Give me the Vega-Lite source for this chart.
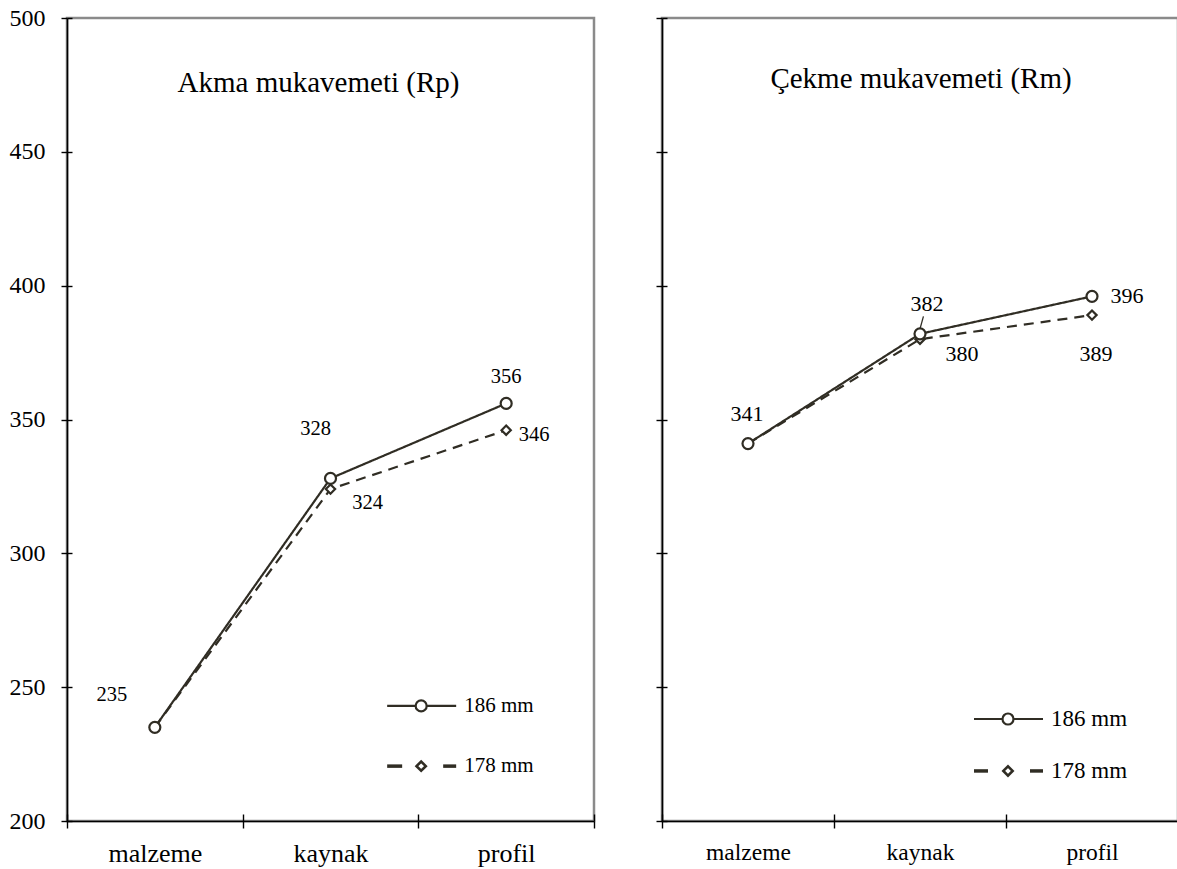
{
  "$schema": "https://vega.github.io/schema/vega-lite/v6.json",
  "background": "white",
  "padding": {"left": 7, "top": 4, "right": 0, "bottom": 0},
  "spacing": 58,
  "datasets": {
    "rp": [
      {"kategori": "malzeme", "seri": "178 mm", "deger": 235},
      {"kategori": "kaynak", "seri": "178 mm", "deger": 324},
      {"kategori": "profil", "seri": "178 mm", "deger": 346},
      {"kategori": "malzeme", "seri": "186 mm", "deger": 235},
      {"kategori": "kaynak", "seri": "186 mm", "deger": 328},
      {"kategori": "profil", "seri": "186 mm", "deger": 356}
    ],
    "rm": [
      {"kategori": "malzeme", "seri": "178 mm", "deger": 341},
      {"kategori": "kaynak", "seri": "178 mm", "deger": 380},
      {"kategori": "profil", "seri": "178 mm", "deger": 389},
      {"kategori": "malzeme", "seri": "186 mm", "deger": 341},
      {"kategori": "kaynak", "seri": "186 mm", "deger": 382},
      {"kategori": "profil", "seri": "186 mm", "deger": 396}
    ]
  },
  "config": {
    "font": "Liberation Serif",
    "view": {"stroke": "#8a8a8a", "strokeWidth": 2.5},
    "axis": {"domainColor": "#000", "tickColor": "#000", "domainWidth": 1.6, "tickWidth": 1.4, "labelColor": "#000", "labelFont": "Liberation Serif", "grid": false, "title": null},
    "title": {"font": "Liberation Serif", "fontSize": 29, "fontWeight": "normal", "color": "#000"}
  },
  "hconcat": [
    {
      "width": 527,
      "height": 803,
      "data": {"name": "rp"},
      "title": {"text": "Akma mukavemeti (Rp)", "offset": -92, "dx": -12, "anchor": "middle", "frame": "group"},
      "resolve": {"scale": {"x": "independent", "y": "independent"}},
      "layer": [
        {
          "mark": {"type": "line", "color": "#302d24", "strokeWidth": 2.2},
          "encoding": {
            "x": {"field": "kategori", "type": "nominal", "scale": {"type": "band", "domain": ["malzeme", "kaynak", "profil"], "paddingInner": 0, "paddingOuter": 0}, "axis": {"orient": "bottom", "tickBand": "extent", "labelAngle": 0, "labelFontSize": 26, "tickSize": 7, "labelPadding": 12}},
            "y": {"field": "deger", "type": "quantitative", "scale": {"domain": [200, 500], "nice": false, "zero": false}, "axis": {"orient": "left", "values": [200, 250, 300, 350, 400, 450, 500], "tickSize": 6, "labelPadding": 16, "labelFontSize": 24}},
            "strokeDash": {"field": "seri", "type": "nominal", "scale": {"domain": ["178 mm", "186 mm"], "range": [[10, 7], [1, 0]]}, "legend": null}
          }
        },
        {
          "mark": {"type": "point", "filled": true, "fill": "white", "stroke": "#302d24", "strokeWidth": 2.2, "opacity": 1},
          "encoding": {
            "x": {"field": "kategori", "type": "nominal", "scale": {"type": "band", "domain": ["malzeme", "kaynak", "profil"], "paddingInner": 0, "paddingOuter": 0}, "axis": {"orient": "bottom", "tickBand": "extent", "labels": false, "domain": false, "tickSize": 7, "offset": -7}},
            "y": {"field": "deger", "type": "quantitative", "scale": {"domain": [200, 500], "nice": false, "zero": false}, "axis": {"orient": "left", "values": [200, 250, 300, 350, 400, 450, 500], "labels": false, "domain": false, "tickSize": 5, "offset": -5}},
            "shape": {"field": "seri", "type": "nominal", "scale": {"domain": ["186 mm", "178 mm"], "range": ["circle", "diamond"]}, "legend": null},
            "size": {"field": "seri", "type": "nominal", "scale": {"domain": ["186 mm", "178 mm"], "range": [121, 86]}, "legend": null}
          }
        },
        {
          "transform": [{"filter": "datum.kategori === 'malzeme' && datum.seri === '186 mm'"}],
          "mark": {"type": "text", "dx": -43, "dy": -32, "fontSize": 20.5, "font": "Liberation Serif", "color": "#000", "baseline": "middle", "align": "center"},
          "encoding": {
            "x": {"field": "kategori", "type": "nominal", "scale": {"type": "band", "domain": ["malzeme", "kaynak", "profil"], "paddingInner": 0, "paddingOuter": 0}, "axis": null},
            "y": {"field": "deger", "type": "quantitative", "scale": {"domain": [200, 500], "nice": false, "zero": false}, "axis": null},
            "text": {"field": "deger"}
          }
        },
        {
          "transform": [{"filter": "datum.kategori === 'kaynak' && datum.seri === '186 mm'"}],
          "mark": {"type": "text", "dx": -15, "dy": -49, "fontSize": 20.5, "font": "Liberation Serif", "color": "#000", "baseline": "middle", "align": "center"},
          "encoding": {
            "x": {"field": "kategori", "type": "nominal", "scale": {"type": "band", "domain": ["malzeme", "kaynak", "profil"], "paddingInner": 0, "paddingOuter": 0}, "axis": null},
            "y": {"field": "deger", "type": "quantitative", "scale": {"domain": [200, 500], "nice": false, "zero": false}, "axis": null},
            "text": {"field": "deger"}
          }
        },
        {
          "transform": [{"filter": "datum.kategori === 'kaynak' && datum.seri === '178 mm'"}],
          "mark": {"type": "text", "dx": 37, "dy": 14, "fontSize": 20.5, "font": "Liberation Serif", "color": "#000", "baseline": "middle", "align": "center"},
          "encoding": {
            "x": {"field": "kategori", "type": "nominal", "scale": {"type": "band", "domain": ["malzeme", "kaynak", "profil"], "paddingInner": 0, "paddingOuter": 0}, "axis": null},
            "y": {"field": "deger", "type": "quantitative", "scale": {"domain": [200, 500], "nice": false, "zero": false}, "axis": null},
            "text": {"field": "deger"}
          }
        },
        {
          "transform": [{"filter": "datum.kategori === 'profil' && datum.seri === '186 mm'"}],
          "mark": {"type": "text", "dx": 0, "dy": -26, "fontSize": 20.5, "font": "Liberation Serif", "color": "#000", "baseline": "middle", "align": "center"},
          "encoding": {
            "x": {"field": "kategori", "type": "nominal", "scale": {"type": "band", "domain": ["malzeme", "kaynak", "profil"], "paddingInner": 0, "paddingOuter": 0}, "axis": null},
            "y": {"field": "deger", "type": "quantitative", "scale": {"domain": [200, 500], "nice": false, "zero": false}, "axis": null},
            "text": {"field": "deger"}
          }
        },
        {
          "transform": [{"filter": "datum.kategori === 'profil' && datum.seri === '178 mm'"}],
          "mark": {"type": "text", "dx": 28, "dy": 5, "fontSize": 20.5, "font": "Liberation Serif", "color": "#000", "baseline": "middle", "align": "center"},
          "encoding": {
            "x": {"field": "kategori", "type": "nominal", "scale": {"type": "band", "domain": ["malzeme", "kaynak", "profil"], "paddingInner": 0, "paddingOuter": 0}, "axis": null},
            "y": {"field": "deger", "type": "quantitative", "scale": {"domain": [200, 500], "nice": false, "zero": false}, "axis": null},
            "text": {"field": "deger"}
          }
        },
        {
          "transform": [{"filter": "datum.kategori === 'profil' && datum.seri === '186 mm'"}],
          "mark": {"type": "rule", "color": "#302d24", "strokeWidth": 2.2, "xOffset": -119, "x2Offset": -50},
          "encoding": {
            "x": {"field": "kategori", "type": "nominal", "scale": {"type": "band", "domain": ["malzeme", "kaynak", "profil"], "paddingInner": 0, "paddingOuter": 0}, "bandPosition": 0.5, "axis": null},
            "x2": {"field": "kategori", "bandPosition": 0.5},
            "y": {"datum": 243, "type": "quantitative", "scale": {"domain": [200, 500], "nice": false, "zero": false}, "axis": null}
          }
        },
        {
          "transform": [{"filter": "datum.kategori === 'profil' && datum.seri === '186 mm'"}],
          "mark": {"type": "point", "shape": "circle", "size": 121, "filled": true, "fill": "white", "stroke": "#302d24", "strokeWidth": 2.2, "opacity": 1, "xOffset": -85},
          "encoding": {
            "x": {"field": "kategori", "type": "nominal", "scale": {"type": "band", "domain": ["malzeme", "kaynak", "profil"], "paddingInner": 0, "paddingOuter": 0}, "axis": null},
            "y": {"datum": 243, "type": "quantitative", "scale": {"domain": [200, 500], "nice": false, "zero": false}, "axis": null}
          }
        },
        {
          "transform": [{"filter": "datum.kategori === 'profil' && datum.seri === '186 mm'"}],
          "mark": {"type": "text", "dx": -42, "fontSize": 21, "font": "Liberation Serif", "color": "#000", "baseline": "middle", "align": "left"},
          "encoding": {
            "x": {"field": "kategori", "type": "nominal", "scale": {"type": "band", "domain": ["malzeme", "kaynak", "profil"], "paddingInner": 0, "paddingOuter": 0}, "axis": null},
            "y": {"datum": 243, "type": "quantitative", "scale": {"domain": [200, 500], "nice": false, "zero": false}, "axis": null},
            "text": {"field": "seri"}
          }
        },
        {
          "transform": [{"filter": "datum.kategori === 'profil' && datum.seri === '178 mm'"}],
          "mark": {"type": "rule", "color": "#302d24", "strokeWidth": 3.5, "xOffset": -119, "x2Offset": -104},
          "encoding": {
            "x": {"field": "kategori", "type": "nominal", "scale": {"type": "band", "domain": ["malzeme", "kaynak", "profil"], "paddingInner": 0, "paddingOuter": 0}, "bandPosition": 0.5, "axis": null},
            "x2": {"field": "kategori", "bandPosition": 0.5},
            "y": {"datum": 220.5, "type": "quantitative", "scale": {"domain": [200, 500], "nice": false, "zero": false}, "axis": null}
          }
        },
        {
          "transform": [{"filter": "datum.kategori === 'profil' && datum.seri === '178 mm'"}],
          "mark": {"type": "rule", "color": "#302d24", "strokeWidth": 3.5, "xOffset": -63, "x2Offset": -50},
          "encoding": {
            "x": {"field": "kategori", "type": "nominal", "scale": {"type": "band", "domain": ["malzeme", "kaynak", "profil"], "paddingInner": 0, "paddingOuter": 0}, "bandPosition": 0.5, "axis": null},
            "x2": {"field": "kategori", "bandPosition": 0.5},
            "y": {"datum": 220.5, "type": "quantitative", "scale": {"domain": [200, 500], "nice": false, "zero": false}, "axis": null}
          }
        },
        {
          "transform": [{"filter": "datum.kategori === 'profil' && datum.seri === '178 mm'"}],
          "mark": {"type": "point", "shape": "diamond", "size": 86, "filled": true, "fill": "white", "stroke": "#302d24", "strokeWidth": 2.6, "opacity": 1, "xOffset": -85},
          "encoding": {
            "x": {"field": "kategori", "type": "nominal", "scale": {"type": "band", "domain": ["malzeme", "kaynak", "profil"], "paddingInner": 0, "paddingOuter": 0}, "axis": null},
            "y": {"datum": 220.5, "type": "quantitative", "scale": {"domain": [200, 500], "nice": false, "zero": false}, "axis": null}
          }
        },
        {
          "transform": [{"filter": "datum.kategori === 'profil' && datum.seri === '178 mm'"}],
          "mark": {"type": "text", "dx": -42, "fontSize": 21, "font": "Liberation Serif", "color": "#000", "baseline": "middle", "align": "left"},
          "encoding": {
            "x": {"field": "kategori", "type": "nominal", "scale": {"type": "band", "domain": ["malzeme", "kaynak", "profil"], "paddingInner": 0, "paddingOuter": 0}, "axis": null},
            "y": {"datum": 220.5, "type": "quantitative", "scale": {"domain": [200, 500], "nice": false, "zero": false}, "axis": null},
            "text": {"field": "seri"}
          }
        }
      ]
    },
    {
      "width": 516,
      "height": 803,
      "data": {"name": "rm"},
      "title": {"text": "Çekme mukavemeti (Rm)", "offset": -77, "dx": 1, "anchor": "middle", "frame": "group"},
      "resolve": {"scale": {"x": "independent", "y": "independent"}},
      "layer": [
        {
          "mark": {"type": "line", "color": "#302d24", "strokeWidth": 2.2},
          "encoding": {
            "x": {"field": "kategori", "type": "nominal", "scale": {"type": "band", "domain": ["malzeme", "kaynak", "profil"], "paddingInner": 0, "paddingOuter": 0}, "axis": {"orient": "bottom", "tickBand": "extent", "labelAngle": 0, "labelFontSize": 23.5, "tickSize": 7, "labelPadding": 12}},
            "y": {"field": "deger", "type": "quantitative", "scale": {"domain": [200, 500], "nice": false, "zero": false}, "axis": {"orient": "left", "values": [200, 250, 300, 350, 400, 450, 500], "tickSize": 6, "labels": false}},
            "strokeDash": {"field": "seri", "type": "nominal", "scale": {"domain": ["178 mm", "186 mm"], "range": [[10, 7], [1, 0]]}, "legend": null}
          }
        },
        {
          "mark": {"type": "point", "filled": true, "fill": "white", "stroke": "#302d24", "strokeWidth": 2.2, "opacity": 1},
          "encoding": {
            "x": {"field": "kategori", "type": "nominal", "scale": {"type": "band", "domain": ["malzeme", "kaynak", "profil"], "paddingInner": 0, "paddingOuter": 0}, "axis": {"orient": "bottom", "tickBand": "extent", "labels": false, "domain": false, "tickSize": 7, "offset": -7}},
            "y": {"field": "deger", "type": "quantitative", "scale": {"domain": [200, 500], "nice": false, "zero": false}, "axis": {"orient": "left", "values": [200, 250, 300, 350, 400, 450, 500], "labels": false, "domain": false, "tickSize": 5, "offset": -5}},
            "shape": {"field": "seri", "type": "nominal", "scale": {"domain": ["186 mm", "178 mm"], "range": ["circle", "diamond"]}, "legend": null},
            "size": {"field": "seri", "type": "nominal", "scale": {"domain": ["186 mm", "178 mm"], "range": [121, 86]}, "legend": null}
          }
        },
        {
          "transform": [{"filter": "datum.kategori === 'kaynak' && datum.seri === '186 mm'"}],
          "mark": {"type": "rule", "color": "#302d24", "strokeWidth": 1.3, "yOffset": -5},
          "encoding": {
            "x": {"field": "kategori", "type": "nominal", "scale": {"type": "band", "domain": ["malzeme", "kaynak", "profil"], "paddingInner": 0, "paddingOuter": 0}, "bandPosition": 0.5, "axis": null},
            "x2": {"field": "kategori", "bandPosition": 0.52},
            "y": {"field": "deger", "type": "quantitative", "scale": {"domain": [200, 500], "nice": false, "zero": false}, "axis": null},
            "y2": {"datum": 388.5}
          }
        },
        {
          "transform": [{"filter": "datum.kategori === 'malzeme' && datum.seri === '186 mm'"}],
          "mark": {"type": "text", "dx": -1, "dy": -30, "fontSize": 22, "font": "Liberation Serif", "color": "#000", "baseline": "middle", "align": "center"},
          "encoding": {
            "x": {"field": "kategori", "type": "nominal", "scale": {"type": "band", "domain": ["malzeme", "kaynak", "profil"], "paddingInner": 0, "paddingOuter": 0}, "axis": null},
            "y": {"field": "deger", "type": "quantitative", "scale": {"domain": [200, 500], "nice": false, "zero": false}, "axis": null},
            "text": {"field": "deger"}
          }
        },
        {
          "transform": [{"filter": "datum.kategori === 'kaynak' && datum.seri === '186 mm'"}],
          "mark": {"type": "text", "dx": 7, "dy": -30, "fontSize": 22, "font": "Liberation Serif", "color": "#000", "baseline": "middle", "align": "center"},
          "encoding": {
            "x": {"field": "kategori", "type": "nominal", "scale": {"type": "band", "domain": ["malzeme", "kaynak", "profil"], "paddingInner": 0, "paddingOuter": 0}, "axis": null},
            "y": {"field": "deger", "type": "quantitative", "scale": {"domain": [200, 500], "nice": false, "zero": false}, "axis": null},
            "text": {"field": "deger"}
          }
        },
        {
          "transform": [{"filter": "datum.kategori === 'kaynak' && datum.seri === '178 mm'"}],
          "mark": {"type": "text", "dx": 42, "dy": 15, "fontSize": 22, "font": "Liberation Serif", "color": "#000", "baseline": "middle", "align": "center"},
          "encoding": {
            "x": {"field": "kategori", "type": "nominal", "scale": {"type": "band", "domain": ["malzeme", "kaynak", "profil"], "paddingInner": 0, "paddingOuter": 0}, "axis": null},
            "y": {"field": "deger", "type": "quantitative", "scale": {"domain": [200, 500], "nice": false, "zero": false}, "axis": null},
            "text": {"field": "deger"}
          }
        },
        {
          "transform": [{"filter": "datum.kategori === 'profil' && datum.seri === '186 mm'"}],
          "mark": {"type": "text", "dx": 35, "dy": 0, "fontSize": 22, "font": "Liberation Serif", "color": "#000", "baseline": "middle", "align": "center"},
          "encoding": {
            "x": {"field": "kategori", "type": "nominal", "scale": {"type": "band", "domain": ["malzeme", "kaynak", "profil"], "paddingInner": 0, "paddingOuter": 0}, "axis": null},
            "y": {"field": "deger", "type": "quantitative", "scale": {"domain": [200, 500], "nice": false, "zero": false}, "axis": null},
            "text": {"field": "deger"}
          }
        },
        {
          "transform": [{"filter": "datum.kategori === 'profil' && datum.seri === '178 mm'"}],
          "mark": {"type": "text", "dx": 4, "dy": 39, "fontSize": 22, "font": "Liberation Serif", "color": "#000", "baseline": "middle", "align": "center"},
          "encoding": {
            "x": {"field": "kategori", "type": "nominal", "scale": {"type": "band", "domain": ["malzeme", "kaynak", "profil"], "paddingInner": 0, "paddingOuter": 0}, "axis": null},
            "y": {"field": "deger", "type": "quantitative", "scale": {"domain": [200, 500], "nice": false, "zero": false}, "axis": null},
            "text": {"field": "deger"}
          }
        },
        {
          "transform": [{"filter": "datum.kategori === 'profil' && datum.seri === '186 mm'"}],
          "mark": {"type": "rule", "color": "#302d24", "strokeWidth": 2.2, "xOffset": -118, "x2Offset": -49},
          "encoding": {
            "x": {"field": "kategori", "type": "nominal", "scale": {"type": "band", "domain": ["malzeme", "kaynak", "profil"], "paddingInner": 0, "paddingOuter": 0}, "bandPosition": 0.5, "axis": null},
            "x2": {"field": "kategori", "bandPosition": 0.5},
            "y": {"datum": 238.1, "type": "quantitative", "scale": {"domain": [200, 500], "nice": false, "zero": false}, "axis": null}
          }
        },
        {
          "transform": [{"filter": "datum.kategori === 'profil' && datum.seri === '186 mm'"}],
          "mark": {"type": "point", "shape": "circle", "size": 121, "filled": true, "fill": "white", "stroke": "#302d24", "strokeWidth": 2.2, "opacity": 1, "xOffset": -84},
          "encoding": {
            "x": {"field": "kategori", "type": "nominal", "scale": {"type": "band", "domain": ["malzeme", "kaynak", "profil"], "paddingInner": 0, "paddingOuter": 0}, "axis": null},
            "y": {"datum": 238.1, "type": "quantitative", "scale": {"domain": [200, 500], "nice": false, "zero": false}, "axis": null}
          }
        },
        {
          "transform": [{"filter": "datum.kategori === 'profil' && datum.seri === '186 mm'"}],
          "mark": {"type": "text", "dx": -41, "fontSize": 23, "font": "Liberation Serif", "color": "#000", "baseline": "middle", "align": "left"},
          "encoding": {
            "x": {"field": "kategori", "type": "nominal", "scale": {"type": "band", "domain": ["malzeme", "kaynak", "profil"], "paddingInner": 0, "paddingOuter": 0}, "axis": null},
            "y": {"datum": 238.1, "type": "quantitative", "scale": {"domain": [200, 500], "nice": false, "zero": false}, "axis": null},
            "text": {"field": "seri"}
          }
        },
        {
          "transform": [{"filter": "datum.kategori === 'profil' && datum.seri === '178 mm'"}],
          "mark": {"type": "rule", "color": "#302d24", "strokeWidth": 3.5, "xOffset": -118, "x2Offset": -104},
          "encoding": {
            "x": {"field": "kategori", "type": "nominal", "scale": {"type": "band", "domain": ["malzeme", "kaynak", "profil"], "paddingInner": 0, "paddingOuter": 0}, "bandPosition": 0.5, "axis": null},
            "x2": {"field": "kategori", "bandPosition": 0.5},
            "y": {"datum": 218.7, "type": "quantitative", "scale": {"domain": [200, 500], "nice": false, "zero": false}, "axis": null}
          }
        },
        {
          "transform": [{"filter": "datum.kategori === 'profil' && datum.seri === '178 mm'"}],
          "mark": {"type": "rule", "color": "#302d24", "strokeWidth": 3.5, "xOffset": -62, "x2Offset": -49},
          "encoding": {
            "x": {"field": "kategori", "type": "nominal", "scale": {"type": "band", "domain": ["malzeme", "kaynak", "profil"], "paddingInner": 0, "paddingOuter": 0}, "bandPosition": 0.5, "axis": null},
            "x2": {"field": "kategori", "bandPosition": 0.5},
            "y": {"datum": 218.7, "type": "quantitative", "scale": {"domain": [200, 500], "nice": false, "zero": false}, "axis": null}
          }
        },
        {
          "transform": [{"filter": "datum.kategori === 'profil' && datum.seri === '178 mm'"}],
          "mark": {"type": "point", "shape": "diamond", "size": 86, "filled": true, "fill": "white", "stroke": "#302d24", "strokeWidth": 2.6, "opacity": 1, "xOffset": -84},
          "encoding": {
            "x": {"field": "kategori", "type": "nominal", "scale": {"type": "band", "domain": ["malzeme", "kaynak", "profil"], "paddingInner": 0, "paddingOuter": 0}, "axis": null},
            "y": {"datum": 218.7, "type": "quantitative", "scale": {"domain": [200, 500], "nice": false, "zero": false}, "axis": null}
          }
        },
        {
          "transform": [{"filter": "datum.kategori === 'profil' && datum.seri === '178 mm'"}],
          "mark": {"type": "text", "dx": -41, "fontSize": 23, "font": "Liberation Serif", "color": "#000", "baseline": "middle", "align": "left"},
          "encoding": {
            "x": {"field": "kategori", "type": "nominal", "scale": {"type": "band", "domain": ["malzeme", "kaynak", "profil"], "paddingInner": 0, "paddingOuter": 0}, "axis": null},
            "y": {"datum": 218.7, "type": "quantitative", "scale": {"domain": [200, 500], "nice": false, "zero": false}, "axis": null},
            "text": {"field": "seri"}
          }
        }
      ]
    }
  ]
}
